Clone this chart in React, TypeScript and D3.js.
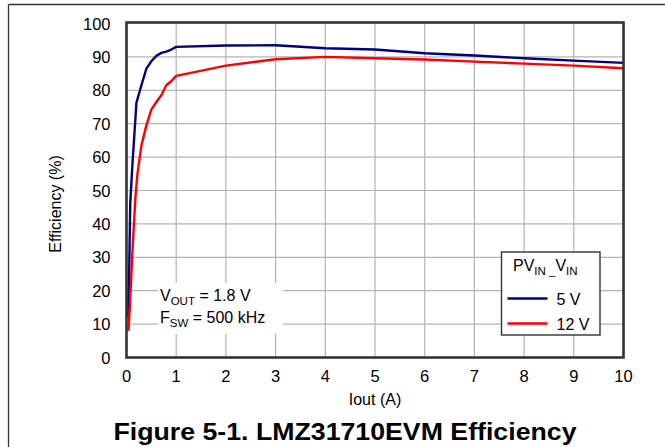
import React from "react";
import * as d3 from "d3";

const xTicks = [0, 1, 2, 3, 4, 5, 6, 7, 8, 9, 10];
const yTicks = [0, 10, 20, 30, 40, 50, 60, 70, 80, 90, 100];

const current5V = [0.03, 0.055, 0.075, 0.12, 0.2, 0.3, 0.4, 0.5, 0.6, 0.7, 0.8, 0.9, 1.0, 2, 3, 4, 5, 6, 7, 8, 9, 10];
const eff5V = [12, 27, 46, 58, 76.3, 81.5, 86.5, 88.7, 90.3, 91.2, 91.6, 92.2, 93.0, 93.4, 93.5, 92.6, 92.2, 91.1, 90.4, 89.6, 88.9, 88.2];

const current12V = [0.04, 0.07, 0.12, 0.18, 0.22, 0.3, 0.4, 0.5, 0.6, 0.7, 0.8, 0.9, 1.0, 2, 3, 4, 5, 6, 7, 8, 9, 10];
const eff12V = [8, 16, 32, 48, 55, 63.5, 69.5, 74.2, 76.5, 78.5, 81.5, 82.7, 84.3, 87.4, 89.3, 90.0, 89.6, 89.2, 88.6, 88.0, 87.4, 86.6];

const seriesNames = ["5 V", "12 V"];
const seriesColors = ["#000080", "#ff0000"];

const FONT = "'Liberation Sans', Arial, Helvetica, sans-serif";

export default function App() {
  const x = d3.scaleLinear().domain([0, 10]).range([126.5, 623.5]);
  const y = d3.scaleLinear().domain([0, 100]).range([357.5, 23.5]);

  const line = d3
    .line<[number, number]>()
    .x((d) => x(d[0]))
    .y((d) => y(d[1]))
    .curve(d3.curveLinear);

  const s5 = current5V.map((c, i) => [c, eff5V[i]] as [number, number]);
  const s12 = current12V.map((c, i) => [c, eff12V[i]] as [number, number]);
  const series = [s5, s12];

  const [x0, x1] = x.range();
  const [y0, y1] = y.range();

  return (
    <svg
      width={665}
      height={447}
      style={{ position: "absolute", left: 0, top: 0, background: "#fff" }}
      fontFamily={FONT}
    >
      <rect x={0} y={0} width={665} height={447} fill="#fff" />
      {/* outer frame */}
      <line x1={8.5} y1={4.5} x2={665} y2={4.5} stroke="#333" strokeWidth={1.3} />
      <line x1={8.5} y1={4.5} x2={8.5} y2={447} stroke="#333" strokeWidth={1.3} />

      {/* grid */}
      {xTicks.slice(1, -1).map((t) => (
        <line key={"gx" + t} x1={x(t)} x2={x(t)} y1={y1} y2={y0} stroke="#b4b4b4" strokeWidth={1.2} />
      ))}
      {yTicks.slice(1, -1).map((t) => (
        <line key={"gy" + t} x1={x0} x2={x1} y1={y(t)} y2={y(t)} stroke="#b4b4b4" strokeWidth={1.2} />
      ))}

      {/* annotation background */}
      <rect x={158} y={283} width={125} height={51} fill="#fff" />
      <text x={160} y={300.5} fontSize={16} fill="#000">
        V<tspan fontSize={11.5} dy={4}>OUT</tspan>
        <tspan dy={-4}> = 1.8 V</tspan>
      </text>
      <text x={160} y={322.5} fontSize={16} fill="#000">
        F<tspan fontSize={11.5} dy={4}>SW</tspan>
        <tspan dy={-4}> = 500 kHz</tspan>
      </text>

      {/* series */}
      {series.map((s, i) => (
        <path
          key={"s" + i}
          d={line(s) || ""}
          fill="none"
          stroke={seriesColors[i]}
          strokeWidth={2.4}
          strokeLinejoin="round"
        />
      ))}

      {/* plot border */}
      <rect x={x0} y={y1 - 1} width={x1 - x0} height={y0 - y1 + 1} fill="none" stroke="#333" strokeWidth={2.6} />

      {/* y tick labels */}
      {yTicks.map((t) => (
        <text key={"yl" + t} x={110.5} y={y(t) + 6} fontSize={16.5} textAnchor="end" fill="#000">
          {t}
        </text>
      ))}
      {/* x tick labels */}
      {xTicks.map((t) => (
        <text key={"xl" + t} x={x(t)} y={381.5} fontSize={16.5} textAnchor="middle" fill="#000">
          {t}
        </text>
      ))}

      {/* axis titles */}
      <text x={375} y={404.5} fontSize={16} textAnchor="middle" fill="#000">
        Iout (A)
      </text>
      <text
        transform="translate(61,204) rotate(-90)"
        fontSize={16}
        textAnchor="middle"
        fill="#000"
      >
        Efficiency (%)
      </text>

      {/* legend */}
      <rect x={501.5} y={252} width={98.5} height={83} fill="#fff" stroke="#333" strokeWidth={1.4} />
      <text x={513} y={270.5} fontSize={16} fill="#000">
        PV<tspan fontSize={11.5} dy={4}>IN _</tspan>
        <tspan dy={-4}>V</tspan>
        <tspan fontSize={11.5} dy={4}>IN</tspan>
      </text>
      {seriesNames.map((n, i) => (
        <g key={"lg" + i}>
          <line x1={507.5} x2={547.5} y1={298.5 + i * 25} y2={298.5 + i * 25} stroke={seriesColors[i]} strokeWidth={2.4} />
          <text x={556.5} y={305 + i * 25} fontSize={16} fill="#000">
            {n}
          </text>
        </g>
      ))}

      {/* figure title */}
      <text
        x={345}
        y={440}
        fontSize={24}
        fontWeight="bold"
        textAnchor="middle"
        fill="#000"
        textLength={463}
        lengthAdjust="spacingAndGlyphs"
      >
        Figure 5-1. LMZ31710EVM Efficiency
      </text>
    </svg>
  );
}
